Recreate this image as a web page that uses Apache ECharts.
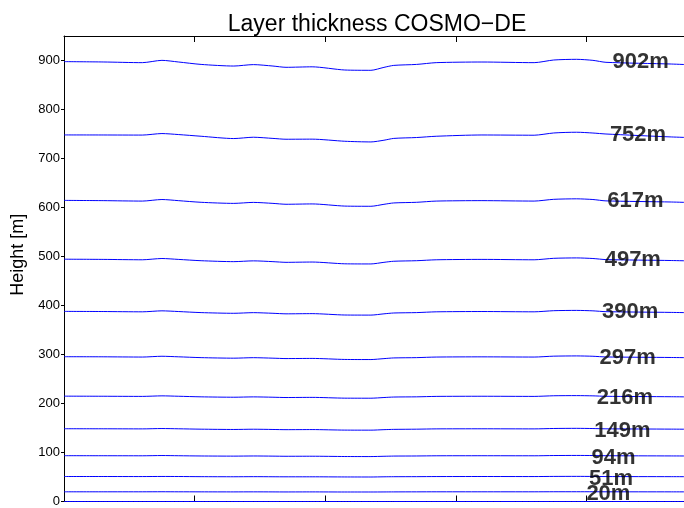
<!DOCTYPE html>
<html>
<head>
<meta charset="utf-8">
<script src="https://cdn.jsdelivr.net/npm/echarts@6/dist/echarts.min.js"></script>
<style>html,body{margin:0;padding:0;background:#fff;}#c{width:684px;height:508px;}</style>
</head>
<body>
<div id="c"></div>
<script>
// x positions (shared across all layer lines)
var xs = [0, 6, 12, 15, 17.5, 21, 26, 29, 32, 34, 38, 43, 47, 49, 50.5, 54, 57, 64, 72, 75, 78.5, 81, 83, 93, 100];
// layer heights along x
var h902 = [897.7, 897, 895.6, 900.3, 897, 892, 888.7, 891.6, 888.7, 886.1, 887.1, 880.6, 880, 886, 890, 892, 895.6, 896.9, 895.6, 901, 902.4, 900.3, 896.3, 892.8, 889];
var h752 = [748.1, 748, 747.8, 750.9, 748.9, 745.4, 740.7, 743.4, 741, 739.3, 739.5, 735.2, 733.8, 737.3, 741, 742.8, 745.4, 748, 747.5, 752.1, 753.6, 752, 750, 744, 741];
var h617 = [614.5, 614, 613.1, 616.3, 614, 610.6, 608.4, 610.4, 608.4, 606.6, 607.3, 602.9, 602.5, 606.5, 609.3, 610.6, 613.1, 614, 613.1, 616.7, 617.7, 616.3, 613.5, 611.2, 608.6];
var h497 = [494.5, 494.1, 493.3, 495.9, 494.1, 491.4, 489.5, 491.1, 489.5, 488.1, 488.7, 485.1, 484.8, 488.1, 490.3, 491.4, 493.3, 494.1, 493.3, 496.3, 497.1, 495.9, 493.7, 491.8, 489.7];
var h390 = [388, 387.7, 387.1, 389.1, 387.7, 385.5, 384.1, 385.4, 384.1, 383, 383.4, 380.6, 380.4, 383, 384.7, 385.5, 387.1, 387.7, 387.1, 389.4, 390, 389.1, 387.4, 385.9, 384.3];
var h297 = [295.5, 295.3, 294.8, 296.4, 295.3, 293.6, 292.5, 293.5, 292.5, 291.7, 292, 289.9, 289.7, 291.6, 293, 293.6, 294.8, 295.2, 294.8, 296.6, 297.1, 296.4, 295, 293.9, 292.6];
var h216 = [215, 214.8, 214.5, 215.6, 214.8, 213.6, 212.8, 213.5, 212.8, 212.2, 212.5, 210.9, 210.8, 212.2, 213.2, 213.6, 214.5, 214.8, 214.5, 215.8, 216.1, 215.6, 214.7, 213.8, 212.9];
var h149 = [148.5, 148.4, 148.2, 148.9, 148.4, 147.6, 147, 147.5, 147, 146.6, 146.8, 145.7, 145.6, 146.6, 147.2, 147.6, 148.2, 148.4, 148.2, 149, 149.3, 148.9, 148.3, 147.7, 147.1];
var h94 = [93.5, 93.4, 93.3, 93.8, 93.4, 92.9, 92.6, 92.9, 92.6, 92.3, 92.4, 91.8, 91.7, 92.3, 92.7, 92.9, 93.3, 93.4, 93.3, 93.8, 94, 93.8, 93.4, 93, 92.6];
var h51 = [51, 51, 50.9, 51.1, 51, 50.7, 50.5, 50.7, 50.5, 50.4, 50.4, 50.1, 50, 50.4, 50.6, 50.7, 50.9, 51, 50.9, 51.2, 51.3, 51.1, 50.9, 50.7, 50.5];
var h20 = [19.8, 19.8, 19.8, 19.9, 19.8, 19.7, 19.6, 19.7, 19.6, 19.5, 19.6, 19.4, 19.4, 19.5, 19.6, 19.7, 19.8, 19.8, 19.8, 19.9, 19.9, 19.9, 19.8, 19.7, 19.6];
var h0 = [0, 0, 0, 0, 0, 0, 0, 0, 0, 0, 0, 0, 0, 0, 0, 0, 0, 0, 0, 0, 0, 0, 0, 0, 0];
// labels
var layerLabels = ['20m', '51m', '94m', '149m', '216m', '297m', '390m', '497m', '617m', '752m', '902m'];
var labelHeights = [20, 51, 94, 149, 216, 297, 390, 497, 617, 752, 902];
var labelX = [80, 80.4, 80.8, 81.2, 81.6, 82, 82.4, 82.8, 83.2, 83.6, 84];
// axis ticks
var xTicks = [0, 20, 40, 60, 80];
var X_MAX = 94.95; // visible part of the (cropped) x range

var layers = [h0, h20, h51, h94, h149, h216, h297, h390, h497, h617, h752, h902];
var FONT = 'Liberation Sans, Arial, Helvetica, sans-serif';

var series = layers.map(function (arr) {
  return {
    type: 'line',
    data: xs.map(function (x, i) { return [x, arr[i]]; }),
    showSymbol: false,
    smooth: 0.25,
    lineStyle: { color: '#0000ff', width: 1 },
    silent: true,
    clip: true,
    z: 2
  };
});
series.push({
  type: 'scatter',
  data: labelX.map(function (x, i) { return [x, labelHeights[i]]; }),
  symbolSize: 1,
  itemStyle: { color: 'rgba(0,0,0,0)' },
  silent: true,
  z: 5,
  label: {
    show: true,
    position: 'inside',
    align: 'left',
    verticalAlign: 'middle',
    offset: [0, 2],
    color: '#000',
    fontFamily: FONT,
    fontWeight: 'bold',
    fontSize: 22,
    formatter: function (p) { return layerLabels[p.dataIndex]; }
  }
});

function xAxisDef(pos) {
  return {
    type: 'value', min: 0, max: X_MAX, position: pos,
    axisLine: { show: true, lineStyle: { color: '#000', width: 1 } },
    axisTick: { show: true, inside: true, length: 6, customValues: xTicks, lineStyle: { color: '#000' } },
    axisLabel: { show: false },
    splitLine: { show: false }
  };
}

var chart = echarts.init(document.getElementById('c'), null, { renderer: 'canvas' });
chart.setOption({
  animation: false,
  backgroundColor: '#fff',
  title: {
    text: 'Layer thickness COSMO\u2212DE',
    left: 372,
    top: 8,
    textAlign: 'center',
    textStyle: { fontFamily: FONT, fontWeight: 'normal', fontSize: 23, color: '#000' }
  },
  grid: { left: 64, top: 36, right: 0, height: 467 },
  xAxis: [xAxisDef('bottom'), xAxisDef('top')],
  yAxis: {
    type: 'value', min: 0, max: 950, interval: 100,
    name: 'Height [m]',
    nameLocation: 'middle',
    nameGap: 33,
    nameTextStyle: { fontFamily: FONT, fontSize: 18, color: '#000', padding: [0, 0, 0, 28] },
    axisLine: { show: true, lineStyle: { color: '#000', width: 1 } },
    axisTick: { show: true, inside: false, length: 3, lineStyle: { color: '#000' } },
    axisLabel: { fontFamily: FONT, fontSize: 13, color: '#000', margin: 4, showMaxLabel: false },
    splitLine: { show: false }
  },
  series: series
});
</script>
</body>
</html>
